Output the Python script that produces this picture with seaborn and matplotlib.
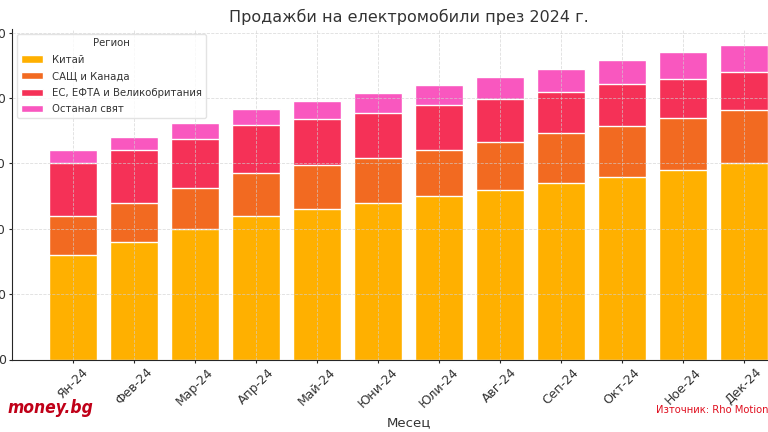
import numpy as np
import pandas as pd
import matplotlib
matplotlib.use("Agg")
import matplotlib.pyplot as plt
import seaborn as sns
from matplotlib.patches import Patch

# Monthly EV sales per region
months = ["Ян-24", "Фев-24", "Мар-24", "Апр-24", "Май-24", "Юни-24",
          "Юли-24", "Авг-24", "Сеп-24", "Окт-24", "Ное-24", "Дек-24"]
china = [800, 900, 1000, 1100, 1150, 1200, 1250, 1300, 1350, 1400, 1450, 1500]
usa_canada = [300, 300, 315, 325, 335, 345, 355, 365, 380, 390, 400, 410]
europe = [400, 400, 375, 370, 355, 345, 340, 325, 315, 315, 300, 290]
rest_world = [100, 100, 120, 125, 140, 150, 155, 170, 180, 185, 200, 210]

regions = ["Китай", "САЩ и Канада", "ЕС, ЕФТА и Великобритания", "Останал свят"]
colours = ["#FFB000", "#F26A21", "#F53157", "#F957BF"]

df = pd.DataFrame({"month": months, regions[0]: china, regions[1]: usa_canada,
                   regions[2]: europe, regions[3]: rest_world})
cum = df[regions].cumsum(axis=1)

sns.set_style("ticks")
plt.rcParams["font.family"] = ["DejaVu Sans"]

fig = plt.figure(figsize=(7.68, 4.32), dpi=100)
ax = fig.add_axes([12 / 768, 1 - 359.5 / 432, 793 / 768, 330.7 / 432])

# stacked bars: draw cumulative totals from the top layer down
for reg, col in reversed(list(zip(regions, colours))):
    sns.barplot(x=df["month"], y=cum[reg], color=col, width=0.8,
                saturation=1, errorbar=None, ax=ax)

ax.set_xlim(-1, len(months))
ax.set_yticks(np.arange(0, 2501, 500))
ax.grid(True, linestyle="--", color="#d0d0d0", linewidth=0.6, alpha=0.7)
ax.set_axisbelow(False)
sns.despine(ax=ax)

ax.tick_params(axis="both", length=2.5, pad=2, labelsize=9, labelcolor="#333333")
plt.setp(ax.get_xticklabels(), rotation=45, ha="center")
ax.set_xlabel("Месец", fontsize=9.5, labelpad=4, color="#333333")
ax.set_ylabel("")
ax.set_title("Продажби на електромобили през 2024 г.", fontsize=11.5,
             color="#333333", pad=5)

handles = [Patch(facecolor=c, label=r) for r, c in zip(regions, colours)]
leg = ax.legend(handles=handles, title="Регион", loc="upper left",
                fontsize=7.3, title_fontsize=7.3, labelspacing=0.65,
                handlelength=2.2, frameon=True)
leg.get_frame().set_edgecolor("#dddddd")
leg.get_title().set_color("#333333")
for t in leg.get_texts():
    t.set_color("#333333")

fig.text(0.01, 0.045, "money.bg", fontsize=12.5, fontweight="bold",
         fontstyle="italic", fontstretch="condensed", color="#C00018")
fig.text(1.0, 0.045, "Източник: Rho Motion", fontsize=8, color="#E01020",
         ha="right", fontstretch="condensed")

fig.savefig("out.png", dpi=100)
